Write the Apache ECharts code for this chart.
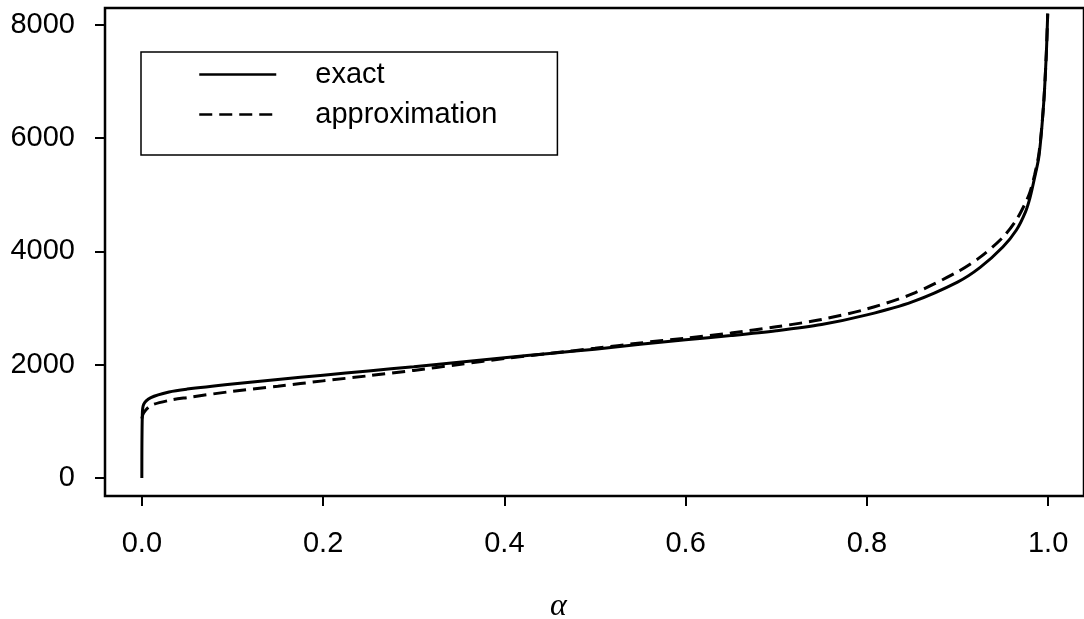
<!DOCTYPE html>
<html>
<head>
<meta charset="utf-8">
<script src="https://cdn.jsdelivr.net/npm/echarts@6/dist/echarts.min.js"></script>
<style>
  html, body { margin: 0; padding: 0; background: #fff; }
  #myChart { width: 1084px; height: 619px; }
</style>
</head>
<body>
<div id="myChart"></div>
<script>
// alpha values and curve values
var alphaExact = [0, 0.0005, 0.002, 0.01, 0.03, 0.05, 0.1, 0.15, 0.2, 0.25, 0.3, 0.35, 0.4, 0.45, 0.5, 0.55, 0.6, 0.65, 0.7, 0.75, 0.8, 0.85, 0.9, 0.925, 0.95, 0.965, 0.975, 0.98, 0.985, 0.99, 0.995, 0.998, 0.9995];
var exactVals  = [0, 1100, 1300, 1420, 1520, 1570, 1660, 1740, 1815, 1890, 1965, 2045, 2125, 2200, 2275, 2360, 2440, 2515, 2600, 2710, 2880, 3110, 3460, 3720, 4080, 4380, 4700, 4950, 5300, 5700, 6600, 7500, 8200];
var alphaApprox = [0, 0.002, 0.01, 0.03, 0.05, 0.1, 0.15, 0.2, 0.25, 0.3, 0.35, 0.4, 0.45, 0.5, 0.55, 0.6, 0.65, 0.7, 0.75, 0.8, 0.85, 0.9, 0.925, 0.95, 0.965, 0.975, 0.98, 0.985, 0.99, 0.995, 0.998, 0.9995];
var approxVals  = [1050, 1150, 1280, 1370, 1420, 1530, 1620, 1715, 1805, 1900, 2005, 2110, 2200, 2290, 2385, 2470, 2560, 2670, 2800, 2985, 3250, 3640, 3900, 4250, 4560, 4860, 5050, 5350, 5750, 6600, 7500, 8200];
var xTicks = [0, 0.2, 0.4, 0.6, 0.8, 1.0];
var yTicks = [0, 2000, 4000, 6000, 8000];
var seriesNames = ['exact', 'approximation'];

function pairs(xs, ys) {
    var out = [];
    for (var i = 0; i < xs.length; i++) out.push([xs[i], ys[i]]);
    return out;
}

var myChart = echarts.init(document.getElementById('myChart'));
var font = 'Liberation Sans, Arial, Helvetica, sans-serif';
var option = {
    animation: false,
    backgroundColor: '#fff',
    title: {
        text: 'α',
        left: 545,
        top: 586,
        textStyle: { fontFamily: 'Liberation Serif, DejaVu Serif, serif', fontStyle: 'italic', fontWeight: 'normal', fontSize: 32, color: '#000' }
    },
    grid: {
        left: 105,
        top: 8,
        width: 983,
        height: 488,
        show: true,
        borderColor: '#000',
        borderWidth: 2.5,
        containLabel: false
    },
    legend: {
        data: seriesNames,
        orient: 'vertical',
        left: 141,
        top: 52,
        backgroundColor: '#fff',
        borderColor: '#000',
        borderWidth: 1.5,
        borderRadius: 0,
        padding: [8, 60, 26, 57],
        itemWidth: 77,
        itemHeight: 14,
        itemGap: 11,
        itemStyle: { opacity: 0 },
        lineStyle: { width: 2.5 },
        textStyle: { fontFamily: font, fontSize: 29, color: '#000', padding: [0, 0, 0, 34] }
    },
    xAxis: {
        type: 'value',
        min: -0.04066,
        max: 1.03956,
        axisLine: { show: false, onZero: false },
        splitLine: { show: false },
        axisTick: { show: true, inside: false, length: 10, customValues: xTicks, lineStyle: { color: '#000', width: 2 } },
        axisLabel: {
            customValues: xTicks,
            margin: 33,
            fontFamily: font,
            fontSize: 29,
            color: '#000',
            formatter: function (v) { return v.toFixed(1); }
        }
    },
    yAxis: {
        type: 'value',
        min: -318,
        max: 8300,
        axisLine: { show: false, onZero: false },
        splitLine: { show: false },
        axisTick: { show: true, inside: false, length: 10, customValues: yTicks, lineStyle: { color: '#000', width: 2 } },
        axisLabel: {
            customValues: yTicks,
            margin: 30,
            fontFamily: font,
            fontSize: 29,
            color: '#000',
            formatter: function (v) { return String(v); }
        }
    },
    series: [
        {
            name: seriesNames[0],
            type: 'line',
            data: pairs(alphaExact, exactVals),
            showSymbol: false,
            symbol: 'none',
            smooth: 0.3,
            lineStyle: { color: '#000', width: 3, type: 'solid' },
            itemStyle: { color: '#000' }
        },
        {
            name: seriesNames[1],
            type: 'line',
            data: pairs(alphaApprox, approxVals),
            showSymbol: false,
            symbol: 'none',
            smooth: 0.3,
            lineStyle: { color: '#000', width: 3, type: [13, 7] },
            itemStyle: { color: '#000' }
        }
    ]
};
myChart.setOption(option);
</script>
</body>
</html>
